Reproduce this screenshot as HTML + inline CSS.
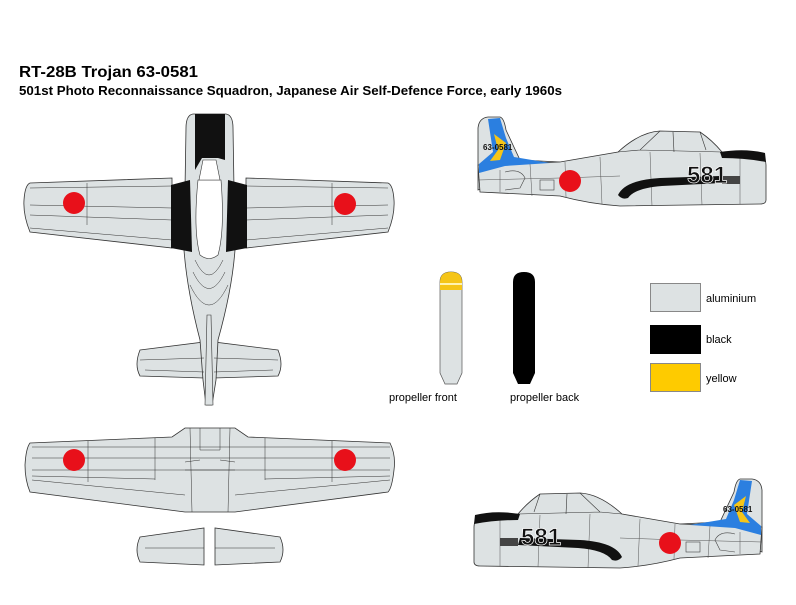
<!DOCTYPE html>
<html><head><meta charset="utf-8"><style>
html,body{margin:0;padding:0;background:#fff;}
svg{display:block;}
text{font-family:"Liberation Sans",sans-serif;}
</style></head><body>
<svg width="796" height="605" viewBox="0 0 796 605" xmlns="http://www.w3.org/2000/svg">
<defs>
<g id="side">
  <path d="M478,190 L478,128 Q479,118 488,117 L500,117 Q504,118 506,130 L520,160 L560,162 Z" fill="#dde2e3" stroke="#333" stroke-width="0.8"/>
  <path d="M478,165 L560,162 L618,152 Q640,132 660,131 L700,132 Q712,140 722,152 L760,155 Q766,158 766,165 L766,200 Q766,204 760,204 L620,206 Q590,204 560,196 L480,192 Z" fill="#dde2e3" stroke="#333" stroke-width="0.8"/>
  <path d="M618,152 L640,150 L660,131 M673,132 L674,152 M700,132 L706,150 M640,150 L722,152" fill="none" stroke="#333" stroke-width="0.6"/>
  <path d="M488,119 L500,118 L506,138 L514,157 L550,163 L505,166 L479,173 L479,164 L493,152 Z" fill="#2b7fe0"/>
  <path d="M494,134 L506,143 L500,160 L490,161 L498,150 Z" fill="#f5c518"/>
  <path d="M500,170 L500,192 M530,164 L532,196 M565,162 L566,197 M600,157 L602,204 M650,152 L652,206 M700,153 L702,205 M740,155 L740,204 M478,180 L560,178 L620,176" fill="none" stroke="#555" stroke-width="0.5"/>
  <rect x="540" y="180" width="14" height="10" fill="none" stroke="#444" stroke-width="0.6"/>
  <path d="M505,172 Q520,168 525,178 L520,188 L505,190" fill="none" stroke="#444" stroke-width="0.6"/>
  <path d="M720,152 Q745,148 765,153 L766,162 Q745,158 722,158 Z" fill="#111"/>
  <path d="M618,195 Q625,180 660,178 L720,176 L722,183 L662,186 Q635,188 628,198 Q622,200 618,195 Z" fill="#111"/>
  <rect x="722" y="176" width="18" height="8" fill="#444"/>
  <circle cx="570" cy="181" r="11" fill="#e8101a"/>
</g>
</defs>

<text x="19" y="77" font-size="15.5" font-weight="bold" textLength="179" lengthAdjust="spacingAndGlyphs">RT-28B Trojan 63-0581</text>
<text x="19" y="95" font-size="13" font-weight="bold" textLength="543" lengthAdjust="spacingAndGlyphs">501st Photo Reconnaissance Squadron, Japanese Air Self-Defence Force, early 1960s</text>

<!-- TOP VIEW -->
<g stroke="#333" stroke-width="0.8" fill="#dde2e3">
  <path d="M30,183 L172,178 L172,248 L30,232 Q23,215 24,200 Q25,185 30,183 Z"/>
  <path d="M388,183 L246,178 L246,248 L388,232 Q395,215 394,200 Q393,185 388,183 Z"/>
  <path d="M140,350 L204,342 L204,378 L140,376 Q134,365 140,350 Z"/>
  <path d="M278,350 L214,342 L214,378 L278,376 Q284,365 278,350 Z"/>
  <path d="M193,114 L226,114 Q233,115 233,128 L235,250 Q232,290 218,340 L216,380 L212,405 L206,405 L203,380 L200,340 Q187,290 184,250 L186,128 Q186,115 193,114 Z"/>
</g>
<g stroke="#333" stroke-width="0.5" fill="none">
  <path d="M30,188 L172,186 M30,205 L172,208 M30,215 L172,220 M87,183 L87,225 M30,228 L172,240 M388,188 L246,186 M388,205 L246,208 M388,215 L246,220 M332,183 L332,225 M388,228 L246,240"/>
  <path d="M140,360 L204,358 M278,360 L214,358 M145,370 L204,372 M273,370 L214,372"/>
  <path d="M195,260 Q209,290 223,260 M193,272 Q209,305 225,272 M190,285 Q209,325 228,285"/>
</g>
<path d="M195,114 L225,114 L225,160 L218,158 L202,158 L195,170 Z" fill="#111"/>
<path d="M171,185 L190,180 L192,252 L171,248 Z" fill="#111"/>
<path d="M247,185 L228,180 L226,252 L247,248 Z" fill="#111"/>
<path d="M198,180 L221,180 Q225,230 218,255 Q209,262 200,255 Q193,230 198,180 Z" fill="#fff" stroke="#333" stroke-width="0.6"/>
<path d="M203,160 L216,160 L220,180 L199,180 Z" fill="#fff" stroke="#333" stroke-width="0.6"/>
<path d="M207,315 L211,315 L213,405 L205,405 Z" fill="#dde2e3" stroke="#333" stroke-width="0.6"/>
<circle cx="74" cy="203" r="11" fill="#e8101a"/>
<circle cx="345" cy="204" r="11" fill="#e8101a"/>

<!-- BOTTOM WING VIEW -->
<g stroke="#333" stroke-width="0.8" fill="#dde2e3">
  <path d="M30,443 L172,437 L185,428 L235,428 L248,437 L390,443 Q396,455 394,470 Q392,488 388,492 L235,512 L185,512 L30,492 Q25,480 25,465 Q26,448 30,443 Z"/>
  <path d="M140,537 L204,528 L204,565 L140,562 Q134,550 140,537 Z"/>
  <path d="M280,537 L215,528 L215,565 L280,562 Q286,550 280,537 Z"/>
</g>
<g stroke="#333" stroke-width="0.5" fill="none">
  <path d="M32,447 L390,447 M32,458 L390,458 M32,470 L390,470 M32,476 L155,479 M265,479 L390,476 M88,441 L88,482 M332,441 L332,482 M155,438 L155,480 M265,438 L265,480 M190,428 L192,512 M230,428 L228,512 M200,428 L200,450 L220,450 L220,428 M185,470 L235,470 M185,462 L200,460 M235,462 L220,460 M32,480 L185,495 M390,480 L235,495"/>
  <path d="M145,548 L204,548 M275,548 L215,548"/>
</g>
<circle cx="74" cy="460" r="11" fill="#e8101a"/>
<circle cx="345" cy="460" r="11" fill="#e8101a"/>

<!-- SIDE VIEWS -->
<use href="#side"/>
<use href="#side" transform="translate(1240,362) scale(-1,1)"/>
<text x="483" y="150" font-size="8" font-weight="bold" fill="#111">63-0581</text>
<text x="687" y="183" font-size="24" font-weight="bold" fill="#111" stroke="#fff" stroke-width="0.7">581</text>
<text x="723" y="512" font-size="8" font-weight="bold" fill="#111">63-0581</text>
<text x="521" y="545" font-size="24" font-weight="bold" fill="#111" stroke="#fff" stroke-width="0.7">581</text>

<!-- PROPELLERS -->
<path d="M440,282 Q440,272 451,272 Q462,272 462,282 L462,373 L457,384 L445,384 L440,373 Z" fill="#dde2e3" stroke="#555" stroke-width="0.7"/>
<path d="M440,282 Q440,272 451,272 Q462,272 462,282 L462,290 L440,290 Z" fill="#f5c518"/>
<rect x="440" y="283" width="22" height="2" fill="#fff3b0"/>
<path d="M513,282 Q513,272 524,272 Q535,272 535,282 L535,373 L530,384 L518,384 L513,373 Z" fill="#000"/>
<text x="389" y="401" font-size="11">propeller front</text>
<text x="510" y="401" font-size="11">propeller back</text>

<!-- LEGEND -->
<rect x="650.5" y="283.5" width="50" height="28" fill="#dde2e3" stroke="#888"/>
<rect x="650" y="325" width="51" height="29" fill="#000"/>
<rect x="650.5" y="363.5" width="50" height="28" fill="#fecb00" stroke="#888"/>
<text x="706" y="302" font-size="11">aluminium</text>
<text x="706" y="343" font-size="11">black</text>
<text x="706" y="382" font-size="11">yellow</text>
</svg>
</body></html>
